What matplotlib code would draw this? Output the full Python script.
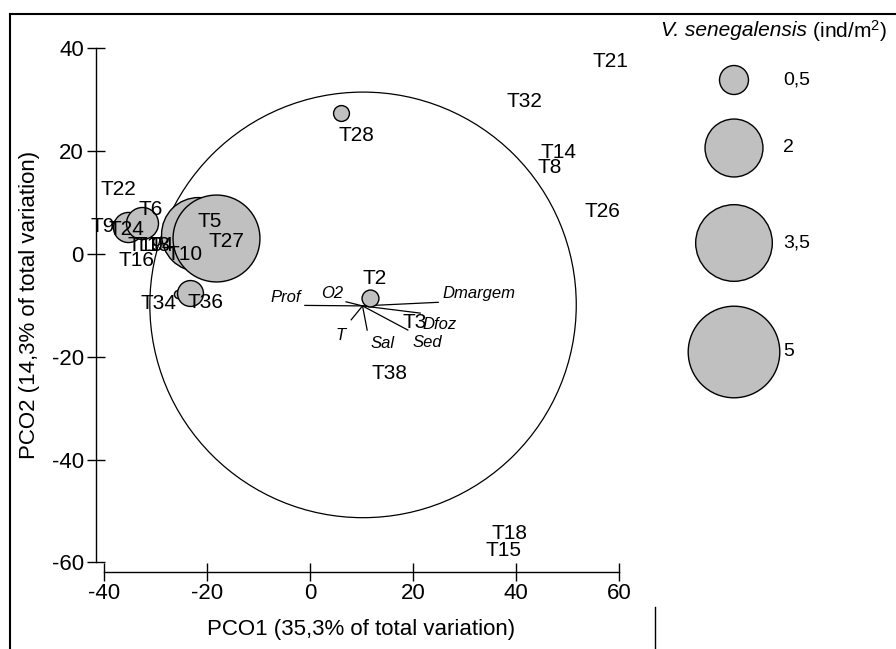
import matplotlib
matplotlib.use('Agg')
import matplotlib.pyplot as plt
from matplotlib.patches import Circle
from matplotlib.lines import Line2D

plt.rcParams['font.family'] = ['Liberation Sans', 'DejaVu Sans']
plt.rcParams['mathtext.fontset'] = 'custom'
plt.rcParams['mathtext.rm'] = 'Liberation Sans'
plt.rcParams['mathtext.it'] = 'Liberation Sans:italic'
plt.rcParams['axes.unicode_minus'] = False

# samples with V. senegalensis present (bubbles)
bub_names = ['T9', 'T24', 'T6', 'T10', 'T5', 'T27', 'T34', 'T36', 'T28', 'T2']
bub_pco1 = [-37.5, -35.3, -32.6, -23.3, -21.7, -18.3, -25.6, -23.3, 6.0, 11.7]
bub_pco2 = [5.6, 5.3, 6.0, 1.8, 3.9, 3.2, -7.8, -7.6, 27.4, -8.6]
bub_density = [0.06, 0.54, 0.61, 0.95, 3.25, 4.5, 0.04, 0.4, 0.15, 0.17]

# samples without the species (labels only)
lab_names = ['T21', 'T32', 'T14', 'T8', 'T26', 'T22', 'T38', 'T18', 'T15',
             'T3', 'T16', 'T19', 'T13', 'T4']
lab_pco1 = [58.3, 41.6, 48.2, 46.6, 56.7, -37.3, 15.5, 38.8, 37.5,
            20.4, -33.6, -32.0, -30.6, -28.8]
lab_pco2 = [37.4, 29.6, 19.8, 16.9, 8.2, 12.5, -23.3, -54.3, -57.6,
            -13.4, -1.2, 1.6, 1.6, 1.6]

# environmental vectors (origin and tips)
vec_origin = (10.2, -10.1)
vec_names = ['Prof', 'O2', 'Dmargem', 'Dfoz', 'Sed', 'Sal', 'T']
vec_x = [-1.0, 7.0, 24.9, 21.4, 19.0, 11.1, 8.0]
vec_y = [-10.0, -9.3, -9.4, -11.5, -14.8, -14.8, -12.8]

# correlation circle
circle_center = (10.3, -9.9)
circle_radius = 41.4

# bubble legend
legend_values = [0.5, 2, 3.5, 5]
legend_labels = ['0,5', '2', '3,5', '5']

# label offsets in points (label placement around the point)
bub_offsets = {'T9': (-10, -1), 'T24': (-1, -2), 'T6': (6, 10), 'T10': (-4, -7),
               'T5': (8, 9), 'T27': (8, -3), 'T34': (-14, -7), 'T36': (11, -7),
               'T28': (11, -16), 'T2': (3, 14)}
vec_offsets = {'Prof': (-14, 6), 'O2': (-10, 6), 'Dmargem': (29, 6),
               'Dfoz': (14, -8), 'Sed': (14, -9), 'Sal': (11, -10), 'T': (-8, -11)}

SIZE_K = 870  # points^2 per ind/m2

W, H = 896, 649
fig = plt.figure(figsize=(W / 100, H / 100), dpi=100)

# axes placed so that 1 unit ~ 5.15 px on both axes
ax = fig.add_axes([78.25 / W, (H - 588.1) / H, 618 / W, 565.4 / H])
ax.set_xlim(-45, 75)
ax.set_ylim(-65, 45)
ax.patch.set_visible(False)

for s in ['top', 'right']:
    ax.spines[s].set_visible(False)
ax.spines['left'].set_position(('data', -41.6))
ax.spines['left'].set_bounds(-60, 40)
ax.spines['bottom'].set_position(('data', -61.8))
ax.spines['bottom'].set_bounds(-40, 60)
for s in ['left', 'bottom']:
    ax.spines[s].set_linewidth(1.0)

ax.set_xticks([-40, -20, 0, 20, 40, 60])
ax.set_yticks([-60, -40, -20, 0, 20, 40])
ax.tick_params(direction='inout', length=13, width=1.0, labelsize=16, pad=2)
ax.set_xlabel('PCO1 (35,3% of total variation)', fontsize=16)
ax.set_ylabel('PCO2 (14,3% of total variation)', fontsize=16)
ax.xaxis.set_label_coords(0.4575, (588.1 - 619) / 565.4)
ax.yaxis.set_label_coords((40 - 78.25) / 618, 0.5)

circ = Circle(circle_center, circle_radius, fill=False, color='black', lw=0.9, zorder=1)
ax.add_patch(circ)

for name, x, y in zip(vec_names, vec_x, vec_y):
    ax.plot([vec_origin[0], x], [vec_origin[1], y], color='black', lw=0.9, zorder=2)
    dx, dy = vec_offsets[name]
    ax.annotate(name, (x, y), xytext=(dx, dy), textcoords='offset points',
                ha='center', va='center', fontsize=12, style='italic', zorder=5)

for name, x, y, d in zip(bub_names, bub_pco1, bub_pco2, bub_density):
    ax.scatter([x], [y], s=SIZE_K * d, color='#c0c0c0', edgecolors='black',
               linewidths=1.0, zorder=3)
for name, x, y in zip(bub_names, bub_pco1, bub_pco2):
    dx, dy = bub_offsets[name]
    ax.annotate(name, (x, y), xytext=(dx, dy), textcoords='offset points',
                ha='center', va='center', fontsize=15, zorder=6)

for name, x, y in zip(lab_names, lab_pco1, lab_pco2):
    ax.text(x, y, name, ha='center', va='center', fontsize=15, zorder=6)

# bubble legend in pixel coordinates
lax = fig.add_axes([0, 0, 1, 1])
lax.set_xlim(0, W)
lax.set_ylim(H, 0)
lax.axis('off')
leg_y = [80, 148, 243, 352]
lax.scatter([734] * len(legend_values), leg_y, s=[SIZE_K * v for v in legend_values],
            color='#c0c0c0', edgecolors='black', linewidths=1.0)
for y, t in zip(leg_y, legend_labels):
    lax.text(783, y, t, ha='left', va='center', fontsize=14)
title_it = lax.text(661, 31, 'V. senegalensis', ha='left', va='baseline',
                    fontsize=15, style='italic')
title_it.set_va('center')
lax.annotate(' (ind/m$^2$)', xy=(1, 0.5), xycoords=title_it, ha='left', va='center',
             fontsize=15)

# frame lines
lax.add_line(Line2D([10, 10], [14, H], color='black', lw=1.5))
lax.add_line(Line2D([10, W], [14, 14], color='black', lw=1.5))
lax.add_line(Line2D([655, 655], [607, H], color='black', lw=1.0))

fig.savefig('out.png', dpi=100)
